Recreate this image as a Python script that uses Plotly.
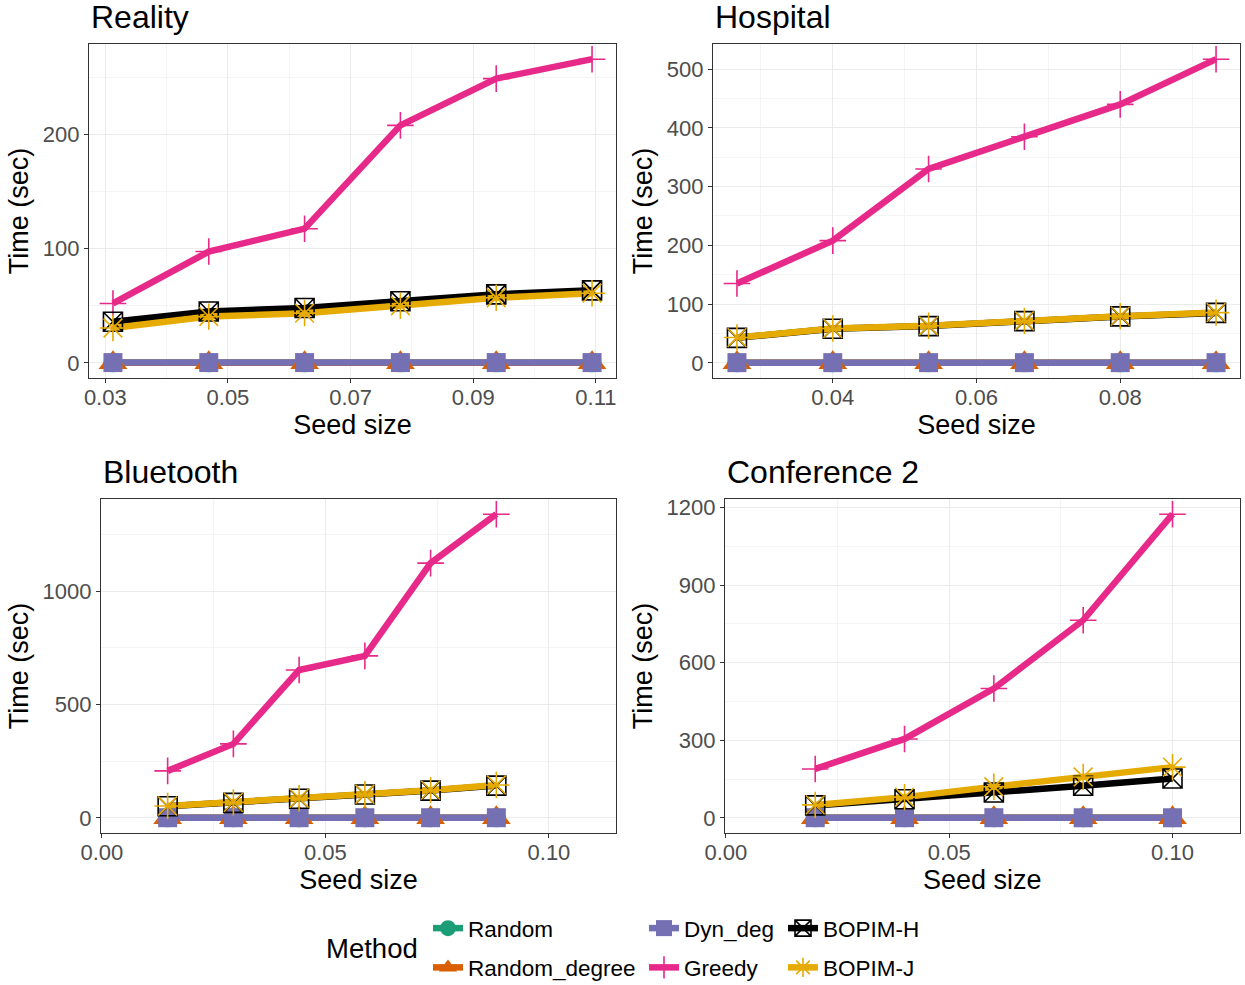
import plotly.graph_objects as go

W, H = 1245, 985

methods = ["Random", "Random_degree", "Dyn_deg", "Greedy", "BOPIM-H", "BOPIM-J"]
colors = {"Random": "#1B9E77", "Random_degree": "#D95F02", "Dyn_deg": "#7570B3",
          "Greedy": "#E7298A", "BOPIM-H": "#000000", "BOPIM-J": "#E6AB02"}
symbols = {"Random": "circle", "Random_degree": "triangle-up", "Dyn_deg": "square",
           "Greedy": "cross-thin-open", "BOPIM-H": "square-x-open", "BOPIM-J": "asterisk-open"}
msizes = {"Random": 19, "Random_degree": 25, "Dyn_deg": 19, "Greedy": 19,
          "BOPIM-H": 19, "BOPIM-J": 22}

# ---- data ----
reality_x = [0.03125, 0.046875, 0.0625, 0.078125, 0.09375, 0.109375]
reality = {
    "Random": [0.0, 0.0, 0.0, 0.0, 0.0, 0.0],
    "Random_degree": [0.0, 0.0, 0.0, 0.0, 0.0, 0.0],
    "Dyn_deg": [0.2, 0.2, 0.2, 0.2, 0.2, 0.2],
    "Greedy": [52, 97.5, 117.5, 208, 249, 266],
    "BOPIM-H": [36, 45, 48, 54, 60, 63.5],
    "BOPIM-J": [30.5, 40.5, 43.5, 50, 57, 61],
}
hospital_x = [0.026667, 0.04, 0.053333, 0.066667, 0.08, 0.093333]
hospital = {
    "Random": [0.0, 0.0, 0.0, 0.0, 0.0, 0.0],
    "Random_degree": [0.0, 0.0, 0.0, 0.0, 0.0, 0.0],
    "Dyn_deg": [0.3, 0.3, 0.3, 0.3, 0.3, 0.3],
    "Greedy": [135, 208, 330, 385, 440, 517],
    "BOPIM-H": [42.5, 58, 62.5, 71, 79, 85],
    "BOPIM-J": [43, 58.5, 63, 71.5, 79.5, 85.5],
}
bluetooth_x = [0.014706, 0.029412, 0.044118, 0.058824, 0.073529, 0.088235]
bluetooth = {
    "Random": [0.0, 0.0, 0.0, 0.0, 0.0, 0.0],
    "Random_degree": [0.0, 0.0, 0.0, 0.0, 0.0, 0.0],
    "Dyn_deg": [0.5, 0.5, 0.5, 0.5, 0.5, 0.5],
    "Greedy": [207, 326, 652, 714, 1123, 1339],
    "BOPIM-H": [51, 66, 84, 103, 120, 142],
    "BOPIM-J": [52, 68, 86, 104, 122, 145],
}
conf_x = [0.02, 0.04, 0.06, 0.08, 0.10]
conf = {
    "Random": [0.0, 0.0, 0.0, 0.0, 0.0],
    "Random_degree": [0.0, 0.0, 0.0, 0.0, 0.0],
    "Dyn_deg": [0.5, 0.5, 0.5, 0.5, 0.5],
    "Greedy": [189, 305, 500, 764, 1174],
    "BOPIM-H": [48, 72, 98, 124, 152],
    "BOPIM-J": [50, 80, 120, 158, 196],
}

panels = [
    dict(name="Reality", x=reality_x, data=reality, px=(89, 616), py=(44, 378),
         xr=None, xt0=0.03, xdt=0.02, xfmt=".2f", ydt=100),
    dict(name="Hospital", x=hospital_x, data=hospital, px=(713, 1240), py=(44, 378),
         xr=None, xt0=0.04, xdt=0.02, xfmt=".2f", ydt=100),
    dict(name="Bluetooth", x=bluetooth_x, data=bluetooth, px=(101, 616), py=(499, 833),
         xr=[-0.0002, 0.115], xt0=0.0, xdt=0.05, xfmt=".2f", ydt=500),
    dict(name="Conference 2", x=conf_x, data=conf, px=(725, 1239.5), py=(499, 833),
         xr=[-0.0002, 0.115], xt0=0.0, xdt=0.05, xfmt=".2f", ydt=300),
]

fig = go.Figure()
FONT = "Liberation Sans, Arial, sans-serif"

def expand(vals):
    lo, hi = min(vals), max(vals)
    s = hi - lo
    return [lo - 0.05 * s, hi + 0.05 * s]

layout = {}
annotations = []
for i, p in enumerate(panels):
    k = "" if i == 0 else str(i + 1)
    allv = [v for m in methods for v in p["data"][m]]
    yr = expand(allv + [0])
    xr = p["xr"] if p["xr"] else expand(p["x"])
    axis_common = dict(showline=True, mirror=True, linecolor="#333333", linewidth=1.3,
                       ticks="outside", ticklen=4, tickcolor="#333333", tickwidth=1.1,
                       showgrid=True, gridcolor="#EBEBEB", gridwidth=1.2, zeroline=False,
                       automargin=False,
                       tickfont=dict(family=FONT, size=22, color="#4D4D4D"))
    layout["xaxis" + k] = dict(axis_common, domain=[p["px"][0] / W, p["px"][1] / W],
                               anchor="y" + k, range=xr, tick0=p["xt0"], dtick=p["xdt"],
                               tickformat=p["xfmt"], ticklabelstandoff=-5,
                               minor=dict(tick0=p["xt0"], dtick=p["xdt"] / 2, showgrid=True,
                                          gridcolor="#F4F4F4", gridwidth=0.6),
                               title=dict(text="Seed size", standoff=4,
                                          font=dict(family=FONT, size=27, color="black")))
    layout["yaxis" + k] = dict(axis_common, domain=[1 - p["py"][1] / H, 1 - p["py"][0] / H],
                               anchor="x" + k, range=yr, tick0=0, dtick=p["ydt"],
                               minor=dict(tick0=0, dtick=p["ydt"] / 2, showgrid=True,
                                          gridcolor="#F4F4F4", gridwidth=0.6),
                               title=dict(text="Time (sec)", standoff=6,
                                          font=dict(family=FONT, size=27, color="black")))
    annotations.append(dict(text=p["name"], xref="paper", yref="paper",
                            x=p["px"][0] / W, y=1 - (p["py"][0] - 27) / H,
                            xanchor="left", yanchor="middle", showarrow=False,
                            font=dict(family=FONT, size=32, color="black")))

# lines first (below), then points
for i, p in enumerate(panels):
    k = "" if i == 0 else str(i + 1)
    for m in methods:
        fig.add_trace(go.Scatter(x=p["x"], y=p["data"][m], mode="lines",
                                 line=dict(color=colors[m], width=6.5),
                                 xaxis="x" + k, yaxis="y" + k, showlegend=False,
                                 hoverinfo="skip"))
for i, p in enumerate(panels):
    k = "" if i == 0 else str(i + 1)
    for m in methods:
        is_open = symbols[m].endswith("open")
        fig.add_trace(go.Scatter(x=p["x"], y=p["data"][m], mode="markers",
                                 marker=dict(symbol=symbols[m], size=msizes[m], color=colors[m],
                                             line=dict(width=1.6 if is_open else 0,
                                                       color=colors[m])),
                                 xaxis="x" + k, yaxis="y" + k, showlegend=False,
                                 hoverinfo="skip"))

# legend entries (three columns)
legend_cols = {"legend": ["Random", "Random_degree"],
               "legend2": ["Dyn_deg", "Greedy"],
               "legend3": ["BOPIM-H", "BOPIM-J"]}
for lg, ms in legend_cols.items():
    for m in ms:
        is_open = symbols[m].endswith("open")
        fig.add_trace(go.Scatter(x=[None], y=[None], mode="lines+markers", name=m,
                                 legend=lg, legendgroup=m,
                                 line=dict(color=colors[m], width=6.5),
                                 marker=dict(symbol=symbols[m], size=16, color=colors[m],
                                             line=dict(width=1.6 if is_open else 0,
                                                       color=colors[m]))))

leg_common = dict(orientation="v", xanchor="left", yanchor="top", bgcolor="rgba(0,0,0,0)",
                  font=dict(family=FONT, size=22.5, color="black"), tracegroupgap=7,
                  itemwidth=30)
layout["legend"] = dict(leg_common, x=428 / W, y=1 - 907 / H)
layout["legend2"] = dict(leg_common, x=644 / W, y=1 - 907 / H)
layout["legend3"] = dict(leg_common, x=783 / W, y=1 - 907 / H)

annotations.append(dict(text="Method", xref="paper", yref="paper", x=372 / W, y=1 - 948 / H,
                        xanchor="center", yanchor="middle", showarrow=False,
                        font=dict(family=FONT, size=27.5, color="black")))

fig.update_layout(width=W, height=H,
                  margin=dict(l=0, r=0, t=0, b=0, autoexpand=False),
                  plot_bgcolor="white", paper_bgcolor="white",
                  annotations=annotations, showlegend=True, **layout)

fig.write_html("out.html")
